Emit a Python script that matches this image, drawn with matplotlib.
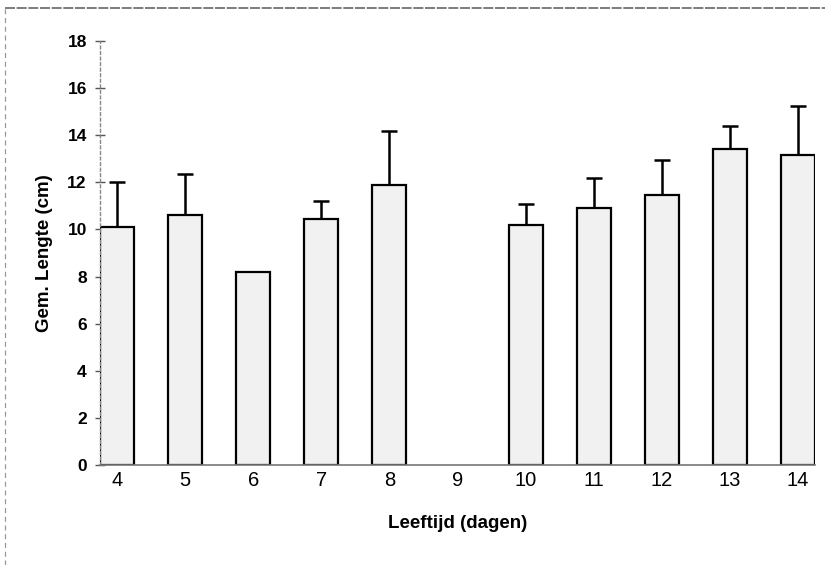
import matplotlib.pyplot as plt
from matplotlib.lines import Line2D

# gemiddelde lengte per leeftijd (dag 9 ontbreekt)
leeftijd = [4, 5, 6, 7, 8, 10, 11, 12, 13, 14]
lengte = [10.1, 10.6, 8.2, 10.45, 11.9, 10.2, 10.9, 11.45, 13.4, 13.15]
sd = [1.9, 1.75, 0.0, 0.75, 2.3, 0.9, 1.3, 1.5, 1.0, 2.1]
xticks = list(range(4, 15))

plt.rcParams['font.family'] = ['Liberation Sans', 'DejaVu Sans']

fig = plt.figure(figsize=(8.25, 5.65), dpi=100)
ax = fig.add_axes([0.1212, 0.177, 0.8668, 0.7504])

ax.bar(leeftijd, lengte, width=0.5, color='#f1f1f1', edgecolor='black',
       linewidth=1.6, zorder=2)
# alleen de bovenste foutbalk
ax.errorbar(leeftijd, lengte, yerr=[[0] * len(sd), sd], fmt='none',
            ecolor='black', elinewidth=1.8, capsize=6, capthick=1.8, zorder=1)

ax.set_xlim(3.75, 14.25)
ax.set_ylim(0, 18)
ax.set_xticks(xticks)
ax.set_yticks(range(0, 19, 2))
ax.tick_params(axis='x', length=0, labelsize=14.5, pad=4)
ax.tick_params(axis='y', direction='inout', length=7, width=1, color='#555555',
               labelsize=12.5, pad=6)
for lbl in ax.get_yticklabels():
    lbl.set_fontweight('bold')

for s in ('top', 'right'):
    ax.spines[s].set_visible(False)
ax.spines['left'].set_linestyle((0, (2, 2)))
ax.spines['left'].set_color('#888888')
ax.spines['left'].set_linewidth(1.0)
ax.spines['bottom'].set_color('#777777')
ax.spines['bottom'].set_linewidth(1.2)

ax.set_ylabel('Gem. Lengte (cm)', fontsize=13.5, fontweight='bold', labelpad=10)
ax.set_xlabel('Leeftijd (dagen)', fontsize=13.5, fontweight='bold', labelpad=18)

# paginarand
fig.add_artist(Line2D([0.006, 1.0], [0.986, 0.986], transform=fig.transFigure,
                      color='#666666', linewidth=1.2, linestyle=(0, (6, 1))))
fig.add_artist(Line2D([0.006, 0.006], [0.0, 0.986], transform=fig.transFigure,
                      color='#999999', linewidth=0.9, linestyle=(0, (4, 3))))

fig.savefig('out.png', dpi=100)
